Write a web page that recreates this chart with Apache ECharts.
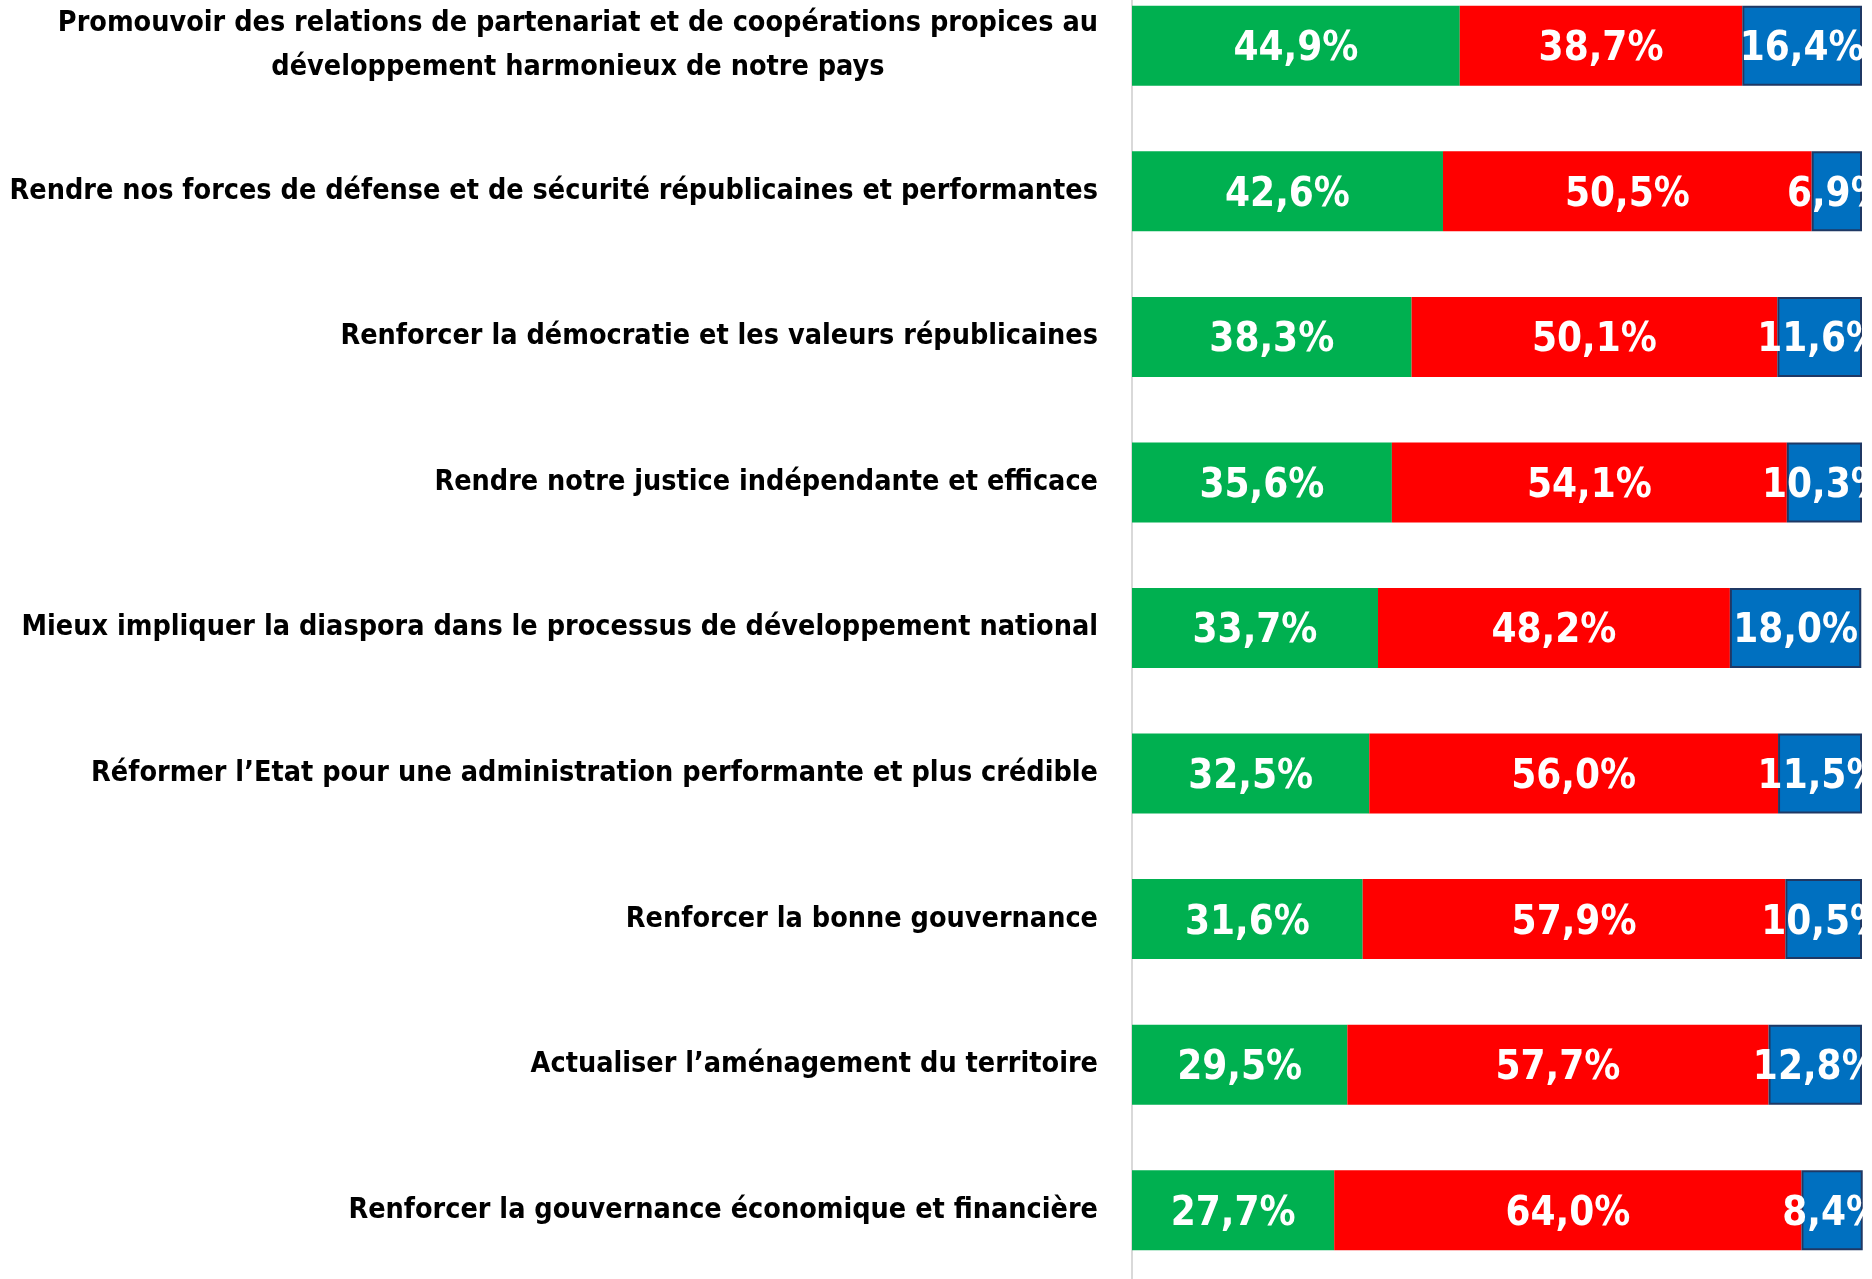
<!DOCTYPE html>
<html>
<head>
<meta charset="utf-8">
<script src="https://cdn.jsdelivr.net/npm/echarts@6/dist/echarts.min.js"></script>
<style>
  html, body { margin: 0; padding: 0; background: #fff; }
  #chartContainer { width: 1872px; height: 1279px; }
</style>
</head>
<body>
<div id="chartContainer"></div>
<script>
// Categories, top to bottom
const categories = [
  'Promouvoir des relations de partenariat et de coopérations propices au\ndéveloppement harmonieux de notre pays',
  'Rendre nos forces de défense et de sécurité républicaines et performantes',
  'Renforcer la démocratie et les valeurs républicaines',
  'Rendre notre justice indépendante et efficace',
  'Mieux impliquer la diaspora dans le processus de développement national',
  'Réformer l’Etat pour une administration performante et plus crédible',
  'Renforcer la bonne gouvernance',
  'Actualiser l’aménagement du territoire',
  'Renforcer la gouvernance économique et financière'
];

// Series values (%)
const greenValues = [44.9, 42.6, 38.3, 35.6, 33.7, 32.5, 31.6, 29.5, 27.7];
const redValues = [38.7, 50.5, 50.1, 54.1, 48.2, 56.0, 57.9, 57.7, 64.0];
const blueValues = [16.4, 6.9, 11.6, 10.3, 18.0, 11.5, 10.5, 12.8, 8.4];

const fontNarrow = "'Liberation Sans Narrow', 'Arial Narrow', 'DejaVu Sans Condensed', sans-serif";

const chartContainer = document.getElementById('chartContainer');
const chart = echarts.init(chartContainer);

// Shared label style for the values inside the bars
const valueLabel = {
  show: true,
  position: 'inside',
  offset: [0, 4],
  color: '#ffffff',
  fontFamily: fontNarrow,
  fontWeight: 'bold',
  fontSize: 40,
  formatter: function (p) {
    return p.value.toFixed(1).replace('.', ',') + '%';
  }
};

function makeSeries(name, values, color, border) {
  return {
    name: name,
    type: 'bar',
    stack: 'total',
    barWidth: 80,
    data: values,
    itemStyle: {
      color: color,
      borderColor: border || color,
      borderWidth: border ? 2 : 0
    },
    label: valueLabel
  };
}

const options = {
  animation: false,
  backgroundColor: '#ffffff',
  grid: {
    left: 1132,
    right: 10,
    top: -27,
    bottom: -4,
    outerBoundsMode: 'none'
  },
  xAxis: {
    type: 'value',
    min: 0,
    max: 100,
    show: false
  },
  yAxis: {
    type: 'category',
    inverse: true,
    data: categories,
    axisLine: { show: true, lineStyle: { color: '#d9d9d9', width: 2 } },
    axisTick: { show: false },
    axisLabel: {
      margin: 34,
      color: '#000000',
      fontFamily: fontNarrow,
      fontWeight: 'bold',
      fontSize: 28.5,
      lineHeight: 44,
      // centre each line of multi-line labels
      formatter: function (value) {
        return value.split('\n').map(function (l) { return '{c|' + l + '}'; }).join('\n');
      },
      rich: {
        c: {
          align: 'center',
          color: '#000000',
          fontFamily: fontNarrow,
          fontWeight: 'bold',
          fontSize: 28.5,
          lineHeight: 44
        }
      }
    }
  },
  series: [
    makeSeries('Vert', greenValues, '#00B050'),
    makeSeries('Rouge', redValues, '#FF0000'),
    makeSeries('Bleu', blueValues, '#0070C0', '#1F3864')
  ]
};

chart.setOption(options);
</script>
</body>
</html>
